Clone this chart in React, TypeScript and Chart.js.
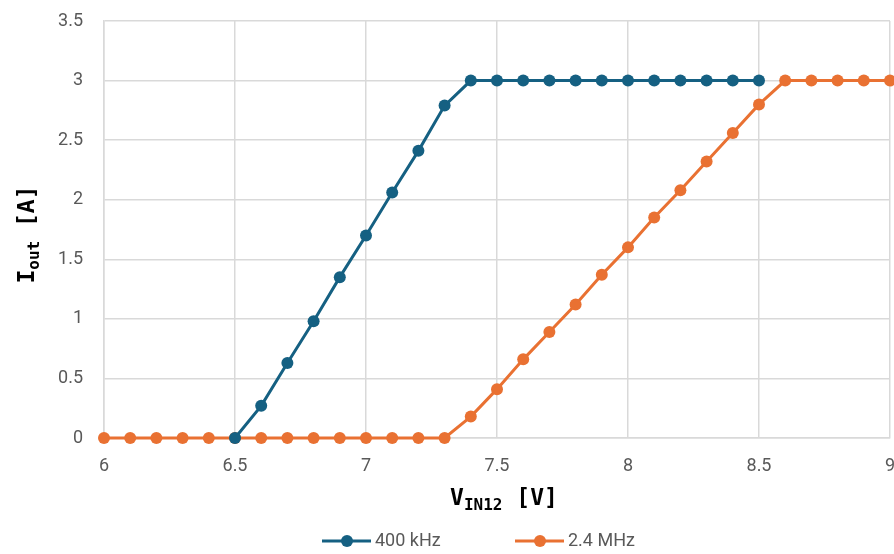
import React, { useEffect, useRef } from "react";
import { Chart, registerables } from "chart.js";

Chart.register(...registerables);

const xValues = [6.0, 6.1, 6.2, 6.3, 6.4, 6.5, 6.6, 6.7, 6.8, 6.9, 7.0, 7.1, 7.2, 7.3, 7.4, 7.5, 7.6, 7.7, 7.8, 7.9, 8.0, 8.1, 8.2, 8.3, 8.4, 8.5, 8.6, 8.7, 8.8, 8.9, 9.0];
const series400k = [null, null, null, null, null, 0, 0.27, 0.63, 0.98, 1.35, 1.70, 2.06, 2.41, 2.79, 3, 3, 3, 3, 3, 3, 3, 3, 3, 3, 3, 3, null, null, null, null, null];
const series2M4 = [0, 0, 0, 0, 0, 0, 0, 0, 0, 0, 0, 0, 0, 0, 0.18, 0.41, 0.66, 0.89, 1.12, 1.37, 1.60, 1.85, 2.08, 2.32, 2.56, 2.80, 3, 3, 3, 3, 3];
const seriesNames = ["400 kHz", "2.4 MHz"];
const seriesColors = ["#156082", "#E97132"];

const MONO = "'DejaVu Sans Mono', monospace";
const SANS = "Roboto, 'Liberation Sans', sans-serif";

const titlesPlugin = {
  id: "customTitles",
  afterDraw(chart: any) {
    const ctx = chart.ctx;
    const area = chart.chartArea;
    ctx.save();
    ctx.fillStyle = "#000000";
    ctx.textBaseline = "alphabetic";
    const big = "bold 23px " + MONO;
    const sub = "bold 16px " + MONO;
    const parts: [string, string, number][] = [
      ["V", big, 0],
      ["IN12", sub, 5],
      [" [V]", big, 0],
    ];
    let total = 0;
    for (const [t, f] of parts) { ctx.font = f; total += ctx.measureText(t).width; }
    let x = (area.left + area.right) / 2 + 7 - total / 2;
    const yBase = 505;
    for (const [t, f, dy] of parts) {
      ctx.font = f; ctx.fillText(t, x, yBase + dy); x += ctx.measureText(t).width;
    }
    const partsY: [string, string, number][] = [
      ["I", big, 0],
      ["out", sub, 5],
      [" [A]", big, 0],
    ];
    total = 0;
    for (const [t, f] of partsY) { ctx.font = f; total += ctx.measureText(t).width; }
    ctx.translate(34, (area.top + area.bottom) / 2 + 5);
    ctx.rotate(-Math.PI / 2);
    x = -total / 2;
    for (const [t, f, dy] of partsY) {
      ctx.font = f; ctx.fillText(t, x, dy); x += ctx.measureText(t).width;
    }
    ctx.restore();

    ctx.save();
    const ly = 541;
    const items = [
      { x: 322, name: seriesNames[0], color: seriesColors[0] },
      { x: 515, name: seriesNames[1], color: seriesColors[1] },
    ];
    ctx.font = "18px " + SANS;
    ctx.textBaseline = "middle";
    for (const it of items) {
      ctx.strokeStyle = it.color;
      ctx.lineWidth = 3;
      ctx.beginPath(); ctx.moveTo(it.x, ly); ctx.lineTo(it.x + 49, ly); ctx.stroke();
      ctx.fillStyle = it.color;
      ctx.beginPath(); ctx.arc(it.x + 25, ly, 6, 0, Math.PI * 2); ctx.fill();
      ctx.fillStyle = "#595959";
      ctx.fillText(it.name, it.x + 53, ly);
    }
    ctx.restore();
  },
};

const fmt = (v: any) => String(Number(v));

export default function App() {
  const ref = useRef<HTMLCanvasElement>(null);
  useEffect(() => {
    document.body.style.margin = "0";
    const chart = new Chart(ref.current!, {
      type: "line",
      data: {
        datasets: [
          {
            label: seriesNames[0],
            data: xValues.map((x, i) => ({ x, y: series400k[i] })),
            borderColor: seriesColors[0],
            backgroundColor: seriesColors[0],
            borderWidth: 3,
            pointRadius: 6,
            pointHoverRadius: 6,
            pointBorderWidth: 0,
            clip: false,
          },
          {
            label: seriesNames[1],
            data: xValues.map((x, i) => ({ x, y: series2M4[i] })),
            borderColor: seriesColors[1],
            backgroundColor: seriesColors[1],
            borderWidth: 3,
            pointRadius: 6,
            pointHoverRadius: 6,
            pointBorderWidth: 0,
            clip: false,
          },
        ],
      },
      options: {
        animation: false,
        responsive: true,
        maintainAspectRatio: false,
        layout: { autoPadding: false, padding: { top: 21, right: 4, left: 0, bottom: 0 } },
        plugins: { legend: { display: false }, tooltip: { enabled: false } },
        scales: {
          x: {
            type: "linear",
            min: 6,
            max: 9,
            ticks: { stepSize: 0.5, padding: 18, color: "#595959", font: { family: SANS, size: 18 }, callback: fmt },
            grid: { color: "#d9d9d9", lineWidth: 1.5, drawTicks: false },
            border: { color: "#d9d9d9", width: 1.5 },
            afterFit: (s: any) => { s.height = 116; s.paddingLeft = 0; s.paddingRight = 0; },
          },
          y: {
            min: 0,
            max: 3.5,
            ticks: { stepSize: 0.5, padding: 21, color: "#595959", font: { family: SANS, size: 18 }, callback: fmt },
            grid: { color: "#d9d9d9", lineWidth: 1.5, drawTicks: false },
            border: { color: "#d9d9d9", width: 1.5 },
            afterFit: (s: any) => { s.width = 104; s.paddingTop = 0; s.paddingBottom = 0; },
          },
        },
      },
      plugins: [titlesPlugin],
    });
    return () => chart.destroy();
  }, []);
  return (
    <div style={{ width: 894, height: 554, position: "relative" }}>
      <canvas ref={ref} />
    </div>
  );
}
